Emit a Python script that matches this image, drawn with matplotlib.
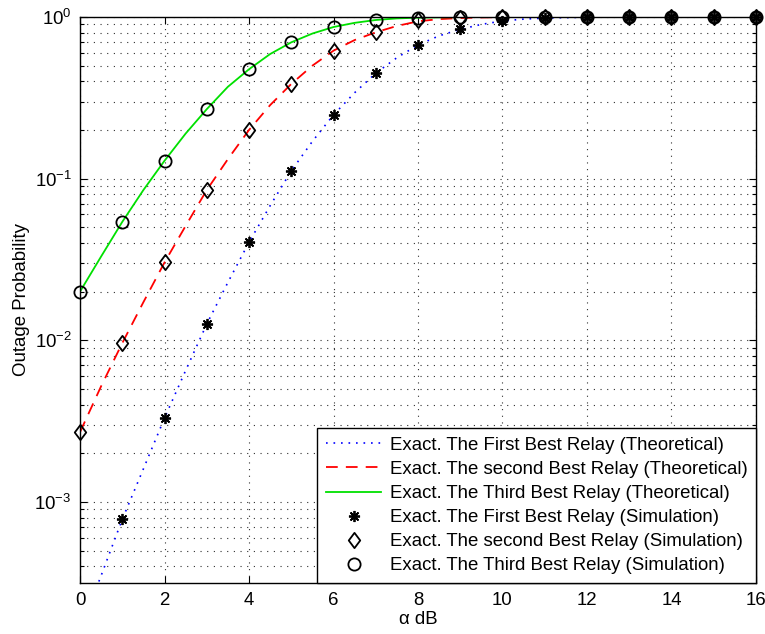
import numpy as np
import matplotlib
matplotlib.use("Agg")
import matplotlib.pyplot as plt
from matplotlib.path import Path
from matplotlib.ticker import LogLocator, FixedLocator, FuncFormatter, NullFormatter

plt.rcParams['font.family'] = ['Liberation Sans', 'DejaVu Sans']
plt.rcParams['mathtext.fontset'] = 'custom'
plt.rcParams['mathtext.rm'] = 'Liberation Sans'
plt.rcParams['mathtext.it'] = 'Liberation Sans:italic'

# ---- data ----
x_theory = [0, 0.5, 1, 1.5, 2, 2.5, 3, 3.5, 4, 4.5, 5, 5.5, 6, 6.5, 7, 7.5, 8,
            8.5, 9, 9.5, 10, 10.5, 11, 12, 13, 14, 15, 16]
first_theory = [1.6e-4, 3.5e-4, 7.8e-4, 1.6e-3, 3.3e-3, 6.5e-3, 0.0126, 0.0228,
                0.0404, 0.068, 0.1116, 0.170, 0.248, 0.34, 0.449, 0.56, 0.671,
                0.765, 0.839, 0.90, 0.945, 0.97, 0.985, 0.997, 1.0, 1.0, 1.0, 1.0]
second_theory = [0.0027, 0.0052, 0.0096, 0.0172, 0.0303, 0.051, 0.085, 0.132,
                 0.200, 0.285, 0.385, 0.50, 0.619, 0.72, 0.804, 0.88, 0.94,
                 0.97, 0.985, 0.993, 0.998, 0.999, 1.0, 1.0, 1.0, 1.0, 1.0, 1.0]
third_theory = [0.020, 0.033, 0.054, 0.085, 0.129, 0.19, 0.269, 0.37, 0.475,
                0.59, 0.697, 0.79, 0.867, 0.92, 0.958, 0.98, 0.99, 0.995,
                0.998, 0.999, 1.0, 1.0, 1.0, 1.0, 1.0, 1.0, 1.0, 1.0]

x_sim = list(range(0, 17))
# first relay at 0 dB lies below the visible range (not shown)
first_sim = [np.nan, 7.8e-4, 3.3e-3, 0.0126, 0.0404, 0.1116, 0.248, 0.449,
             0.671, 0.839, 0.945, 0.99, 1.0, 1.0, 1.0, 1.0, 1.0]
second_sim = [0.0027, 0.00955, 0.0303, 0.0851, 0.200, 0.385, 0.619, 0.804,
              0.955, 0.99, 1.0, 1.0, 1.0, 1.0, 1.0, 1.0, 1.0]
third_sim = [0.020, 0.0542, 0.129, 0.269, 0.475, 0.697, 0.867, 0.958, 0.99,
             1.0, 1.0, 1.0, 1.0, 1.0, 1.0, 1.0, 1.0]

labels = ["Exact. The First Best Relay (Theoretical)",
          "Exact. The second Best Relay (Theoretical)",
          "Exact. The Third Best Relay (Theoretical)",
          "Exact. The First Best Relay (Simulation)",
          "Exact. The second Best Relay (Simulation)",
          "Exact. The Third Best Relay (Simulation)"]

FS = 13.4

# ---- figure ----
fig = plt.figure(figsize=(7.65, 6.34), dpi=100)
ax = fig.add_axes([0.1046, 0.0809, 0.8836, 0.8923])

ax.plot(x_theory, first_theory, color='#0000ff', linestyle=(0, (1, 3.5)), lw=1.2,
        label=labels[0])
ax.plot(x_theory, second_theory, color='#ff0000', linestyle=(0, (6.5, 4.5)), lw=1.3,
        label=labels[1])
ax.plot(x_theory, third_theory, color='#00e000', linestyle='-', lw=1.3,
        label=labels[2])

diamond = Path([(0, 1), (0.75, 0), (0, -1), (-0.75, 0), (0, 1)],
               [Path.MOVETO, Path.LINETO, Path.LINETO, Path.LINETO, Path.CLOSEPOLY])

ax.plot(x_sim, first_sim, linestyle='none', marker=(8, 2, 0), ms=8,
        mec='black', mew=1.3, color='black', label=labels[3], clip_on=False)
ax.plot(x_sim, second_sim, linestyle='none', marker=diamond, ms=11,
        mec='black', mfc='none', mew=1.3, label=labels[4], clip_on=False)
ax.plot(x_sim, third_sim, linestyle='none', marker='o', ms=8.8,
        mec='black', mfc='none', mew=1.3, label=labels[5], clip_on=False)

ax.set_yscale('log')
ax.set_xlim(0, 16)
ax.set_ylim(10 ** -3.5, 1)

ax.xaxis.set_major_locator(FixedLocator(np.arange(0, 17, 2)))
ax.yaxis.set_major_locator(FixedLocator([1e-3, 1e-2, 1e-1, 1]))
ax.yaxis.set_minor_locator(LogLocator(base=10, subs=np.arange(2, 10)))
ax.yaxis.set_minor_formatter(NullFormatter())
ax.yaxis.set_major_formatter(FuncFormatter(
    lambda v, p: (r'$\mathregular{10^{%d}}$' % int(round(np.log10(v)))).replace('-', '\u2212')))

ax.tick_params(which='both', direction='in', top=True, right=True,
               labelsize=FS, width=0.8, colors='black')
ax.tick_params(which='major', length=5)
ax.tick_params(which='minor', length=3)
ax.tick_params(axis='x', pad=7)
ax.tick_params(axis='y', pad=6)

gstyle = dict(color='#303030', linestyle=(0, (1, 5)), lw=0.8)
ax.grid(True, which='major', axis='both', **gstyle)
ax.grid(True, which='minor', axis='y', **gstyle)
for s in ax.spines.values():
    s.set_linewidth(1.0)
    s.set_color('black')
    s.set_zorder(5)

ax.set_xlabel('\u03b1 dB', fontsize=FS, labelpad=1)
ax.set_ylabel('Outage Probability', fontsize=FS, labelpad=3)

leg = ax.legend(loc='lower right', bbox_to_anchor=(1, 0), borderaxespad=0,
                fontsize=FS, frameon=True, fancybox=False, handlelength=3.0,
                handletextpad=0.45, labelspacing=0.38, borderpad=0.45,
                edgecolor='black', framealpha=1)
leg.get_frame().set_linewidth(1.0)
leg.set_zorder(10)

fig.savefig('out.png', dpi=100)
